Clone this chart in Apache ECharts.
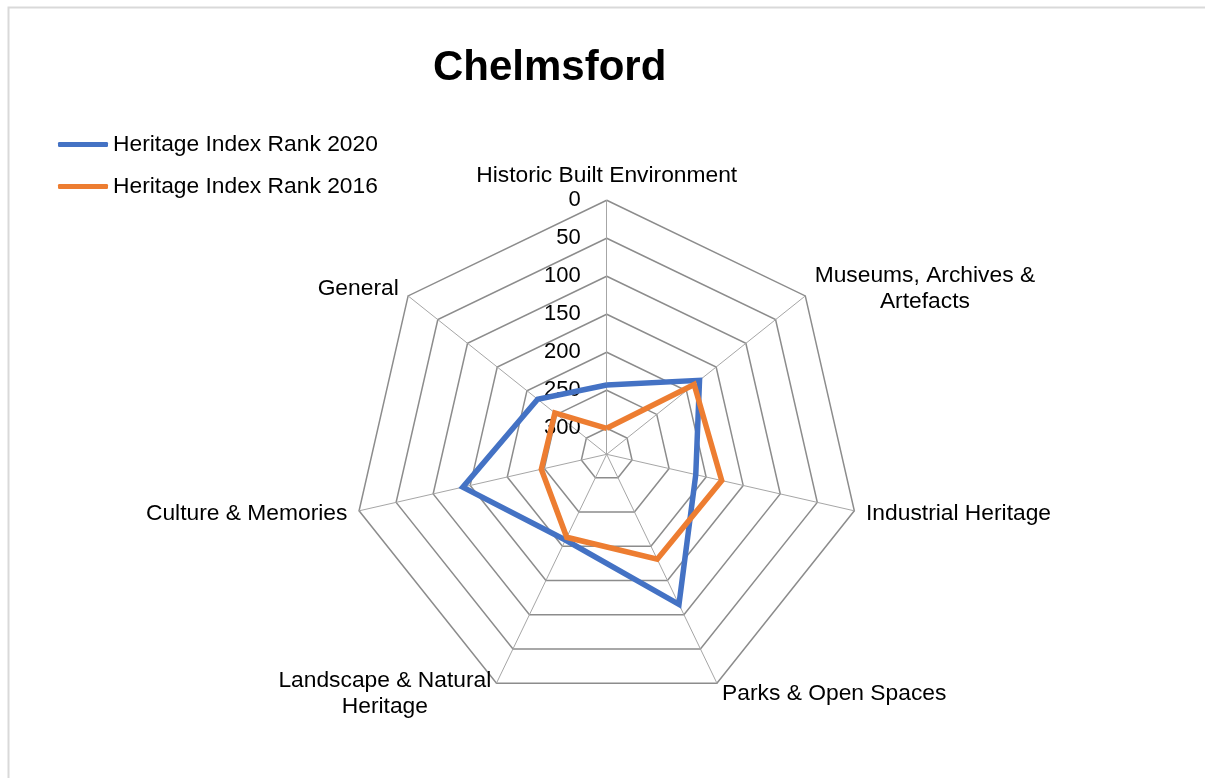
<!DOCTYPE html>
<html>
<head>
<meta charset="utf-8">
<script src="https://cdn.jsdelivr.net/npm/echarts@6/dist/echarts.min.js"></script>
<style>
html,body{margin:0;padding:0;background:#fff;}
#chart{width:1205px;height:778px;}
</style>
</head>
<body>
<div id="chart"></div>
<script>
// ---- data (Excel order, clockwise from top) ----
const chartTitle = 'Chelmsford';
const categories = [
  'Historic Built Environment',
  'Museums, Archives &\nArtefacts',
  'Industrial Heritage',
  'Parks & Open Spaces',
  'Landscape & Natural\nHeritage',
  'Culture & Memories',
  'General'
];
const seriesNames = ['Heritage Index Rank 2020', 'Heritage Index Rank 2016'];
const rank2020 = [243, 178, 214, 115, 209, 140, 218];
const rank2016 = [300, 187, 179, 181, 213, 246, 247];
const tickLabels = [0, 50, 100, 150, 200, 250, 300];
const colors = ['#4472C4', '#ED7D31'];

// ---- build options ----
const rankTop = tickLabels[tickLabels.length - 1];   // innermost ring
const splitN = tickLabels.length - 1;
// ECharts radar runs counter-clockwise; Excel runs clockwise
const order = [0].concat(categories.slice(1).map((_, i) => categories.length - 1 - i));
const toAxis = r => rankTop - r;                        // reversed axis: rank 0 outside
const FONT = '"Liberation Sans", Arial, sans-serif';
const CX = 606.7, CY = 454.3;
const TXT = 22.8;

const indicators = order.map((i, k) => {
  const ind = { name: categories[i], min: 0, max: rankTop };
  if (k === 0) {
    ind.axisLabel = {
      show: true, margin: 26, color: '#000', fontSize: 22, fontFamily: FONT,
      showMinLabel: true, showMaxLabel: true,
      formatter: v => String(rankTop - v)
    };
  }
  return ind;
});

const chart = echarts.init(document.getElementById('chart'), null, { renderer: 'canvas' });
chart.setOption({
  backgroundColor: '#fff',
  animation: false,
  title: {
    text: chartTitle, left: 428, top: 42,
    textStyle: { fontSize: 42, fontWeight: 'bold', color: '#000', fontFamily: FONT }
  },
  legend: {
    orient: 'vertical', left: 58, top: 133, padding: 0,
    itemWidth: 50, itemHeight: 5, itemGap: 19, icon: 'roundRect',
    data: seriesNames,
    textStyle: { fontSize: TXT, color: '#000', fontFamily: FONT }
  },
  graphic: [{
    type: 'rect', left: 6, top: 5, silent: true,
    shape: { width: 1400, height: 1000 },
    style: { fill: 'none', stroke: '#d9d9d9', lineWidth: 2 }
  }],
  radar: [{
    center: [CX, CY],
    radius: [26, 254],
    startAngle: 90,
    shape: 'polygon',
    splitNumber: splitN,
    indicator: indicators,
    nameGap: 12,
    axisName: {
      color: '#000', fontSize: TXT, fontFamily: FONT, lineHeight: 26,
      formatter: name => name.split('\n').map(s => '{c|' + s + '}').join('\n'),
      rich: { c: { align: 'center', color: '#000', fontSize: TXT, fontFamily: FONT, lineHeight: 26 } }
    },
    axisLine: { show: true, lineStyle: { color: '#a6a6a6', width: 1 } },
    axisTick: { show: false },
    axisLabel: { show: false },
    splitLine: { show: true, lineStyle: { color: '#8c8c8c', width: 1.5 } },
    splitArea: { show: false }
  }, {
    center: [CX, CY],
    radius: 26,
    startAngle: 90,
    shape: 'polygon',
    splitNumber: 1,
    indicator: order.map(() => ({ name: '', min: 0, max: 1 })),
    axisName: { show: false },
    axisLine: { show: true, lineStyle: { color: '#a6a6a6', width: 1 } },
    axisTick: { show: false },
    axisLabel: { show: false },
    splitLine: { show: false },
    splitArea: { show: false }
  }],
  series: [{
    type: 'radar',
    radarIndex: 0,
    symbol: 'none',
    data: [rank2020, rank2016].map((arr, s) => ({
      name: seriesNames[s],
      value: order.map(i => toAxis(arr[i])),
      lineStyle: { color: colors[s], width: 5.5, join: 'miter' },
      itemStyle: { color: colors[s] }
    }))
  }]
});
</script>
</body>
</html>
